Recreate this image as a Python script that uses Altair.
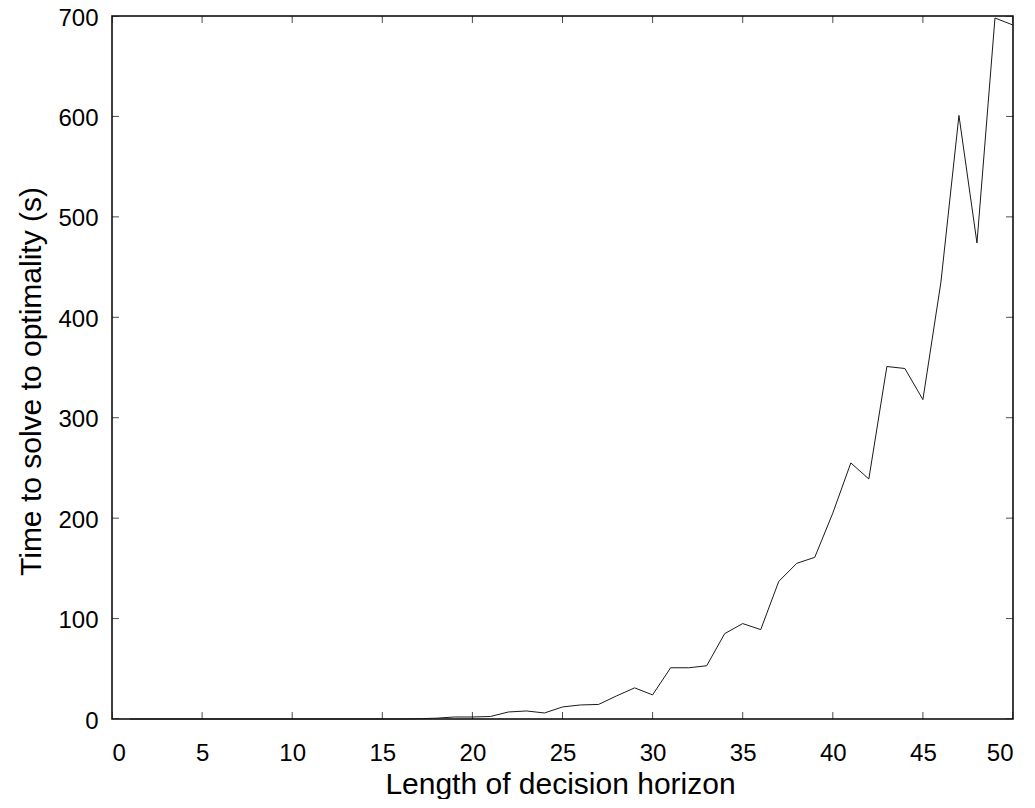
import altair as alt
import pandas as pd

# Data
horizon = list(range(1, 51))
solve_time = [
    0, 0, 0, 0, 0, 0, 0, 0, 0, 0,
    0, 0, 0, 0, 0, 0, 0.3, 0.8, 2, 2,
    2.5, 7, 8, 6, 12, 14, 14.5, 23, 31, 24,
    51, 51, 53, 85, 95, 89, 137, 155, 161, 205,
    255, 239, 351, 349, 318, 435, 601, 474, 698, 691,
]
x_ticks = [0, 5, 10, 15, 20, 25, 30, 35, 40, 45, 50]
y_ticks = [0, 100, 200, 300, 400, 500, 600, 700]

df = pd.DataFrame({"horizon": horizon, "time": solve_time})
xt = pd.DataFrame({"v": x_ticks})
yt = pd.DataFrame({"v": y_ticks})

FONT = "Liberation Sans"
W, H = 901, 703

xscale = alt.Scale(domain=[0, 50], nice=False)
yscale = alt.Scale(domain=[0, 700], nice=False)

line = alt.Chart(df).mark_line(color="#1a1a1a", strokeWidth=1).encode(
    x=alt.X("horizon:Q", scale=xscale,
            axis=alt.Axis(values=x_ticks, title="Length of decision horizon",
                          grid=False, domain=False, ticks=False, tickSize=0,
                          labelFontSize=24, labelFont=FONT, labelColor="#000",
                          labelBaseline="alphabetic", labelPadding=41,
                          titleFontSize=30, titleFont=FONT, titleColor="#000",
                          titleFontWeight="normal", titleBaseline="alphabetic",
                          titleX=448, titleY=74)),
    y=alt.Y("time:Q", scale=yscale,
            axis=alt.Axis(values=y_ticks, title="Time to solve to optimality (s)",
                          grid=False, domain=False, ticks=False, tickSize=0,
                          labelFontSize=24, labelFont=FONT, labelColor="#000",
                          labelPadding=14, labelOffset=2,
                          titleFontSize=30, titleFont=FONT, titleColor="#000",
                          titleFontWeight="normal", titleAngle=-90,
                          titleBaseline="alphabetic", titleAlign="center",
                          titleX=-72, titleY=365)),
)

tick_style = dict(color="black", thickness=1, size=14, clip=True)

bottom_ticks = alt.Chart(xt).mark_tick(orient="vertical", **tick_style).encode(
    x=alt.X("v:Q", scale=xscale), y=alt.datum(0, scale=yscale))
top_ticks = alt.Chart(xt).mark_tick(orient="vertical", **tick_style).encode(
    x=alt.X("v:Q", scale=xscale), y=alt.datum(700, scale=yscale))
left_ticks = alt.Chart(yt).mark_tick(orient="horizontal", **tick_style).encode(
    y=alt.Y("v:Q", scale=yscale), x=alt.datum(0, scale=xscale))
right_ticks = alt.Chart(yt).mark_tick(orient="horizontal", **tick_style).encode(
    y=alt.Y("v:Q", scale=yscale), x=alt.datum(50, scale=xscale))

chart = alt.layer(line, bottom_ticks, top_ticks, left_ticks, right_ticks).properties(
    width=W, height=H,
    autosize=alt.AutoSizeParams(type="none"),
    padding={"left": 104, "top": 8, "right": 14, "bottom": 80},
    background="white",
).configure_view(stroke="black", strokeWidth=1.5)

chart.save("out.html", embed_options={"renderer": "svg", "actions": False})
